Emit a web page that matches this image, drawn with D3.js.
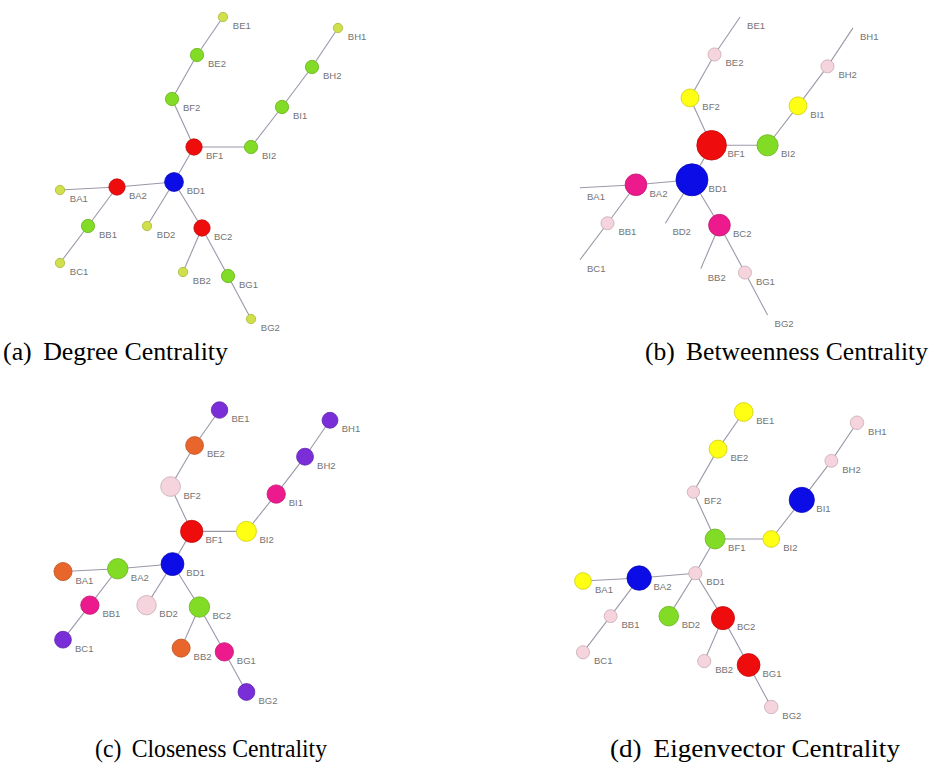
<!DOCTYPE html>
<html>
<head>
<meta charset="utf-8">
<script src="https://cdn.jsdelivr.net/npm/d3@7"></script>
<style>
  body { margin: 0; background: #fff; }
  svg { display: block; }
</style>
</head>
<body>
<svg id="chart" width="930" height="772"></svg>
<script>
// Nodes of the tree network, in a fixed drawing order
const nodeNames = ["BE1","BE2","BF2","BF1","BI2","BI1","BH2","BH1","BD1","BA2","BA1","BB1","BC1","BD2","BC2","BB2","BG1","BG2"];

// Undirected edges between nodes
const links = [
  ["BE1","BE2"],["BE2","BF2"],["BF2","BF1"],["BF1","BI2"],["BI2","BI1"],["BI1","BH2"],["BH2","BH1"],
  ["BF1","BD1"],["BD1","BA2"],["BA2","BA1"],["BA2","BB1"],["BB1","BC1"],["BD1","BD2"],
  ["BD1","BC2"],["BC2","BB2"],["BC2","BG1"],["BG1","BG2"]
];

// Graph layout coordinates (abstract layout units, shared by all four views)
const layoutX = [163,137,112,134,191,222,252,278,114,57,0,28,0,87,142,123,168,191];
const layoutY = [0,38,82,130,130,90,50,11,165,170,173,209,246,209,211,255,259,302];

// Centrality measures per node (same order as nodeNames)
const degree      = [1,2,2,3,2,2,2,1,4,3,1,2,1,1,3,1,2,1];
const betweenness = [0,16,30,82,42,30,16,0,96,44,0,16,0,0,44,0,16,0];
const closeness   = [0.200,0.246,0.309,0.395,0.321,0.262,0.215,0.179,0.415,0.333,0.254,0.262,0.210,0.298,0.333,0.254,0.262,0.210];
const eigenvector = [0.55,0.50,0.15,0.62,0.42,0.95,0.18,0.22,0.20,0.90,0.42,0.18,0.20,0.60,0.82,0.20,0.80,0.22];

// Sub-figure captions
const captionTags   = ["(a)","(b)","(c)","(d)"];
const captionTitles = ["Degree Centrality","Betweenness Centrality","Closeness Centrality","Eigenvector Centrality"];

// Palette
const C = {
  blue: "#0c0ce6", red: "#ee0c0c", green: "#82dc26", leaf: "#d0e04a",
  yellow: "#ffff14", magenta: "#ec1a8c", pink: "#f6d4de", orange: "#e8662c", purple: "#7a2ed8"
};

const panels = [
  { values: degree,
    x: [60, 338], y: [17, 319],
    color: d3.scaleThreshold().domain([1.5, 2.5, 3.5]).range([C.leaf, C.green, C.red, C.blue]),
    radius: d3.scaleSqrt().domain([0, 4]).range([0, 9.4]),
    cap: [3, 360, 225] },
  { values: betweenness,
    x: [580, 853], y: [17, 315],
    color: d3.scaleThreshold().domain([20, 36, 43, 60, 90]).range([C.pink, C.yellow, C.green, C.magenta, C.red, C.blue]),
    radius: d3.scaleSqrt().domain([0, 96]).range([0, 16]),
    cap: [645, 360, 283] },
  { values: closeness,
    x: [63, 330], y: [410, 692],
    color: d3.scaleThreshold().domain([0.23, 0.258, 0.28, 0.315, 0.33, 0.38, 0.41])
      .range([C.purple, C.orange, C.magenta, C.pink, C.yellow, C.green, C.red, C.blue]),
    radius: d3.scaleLinear().domain([0.17, 0.42]).range([7.8, 11.5]),
    cap: [95, 757, 232] },
  { values: eigenvector,
    x: [583, 857], y: [412, 707],
    color: d3.scaleThreshold().domain([0.3, 0.58, 0.7, 0.85]).range([C.pink, C.yellow, C.green, C.red, C.blue]),
    radius: d3.scaleLinear().domain([0, 1]).range([5, 13]),
    cap: [610, 757, 290] }
];

const svg = d3.select("#chart");
const index = new Map(nodeNames.map((n, i) => [n, i]));

panels.forEach((p, k) => {
  const sx = d3.scaleLinear().domain(d3.extent(layoutX)).range(p.x);
  const sy = d3.scaleLinear().domain(d3.extent(layoutY)).range(p.y);
  const g = svg.append("g");

  const nodes = nodeNames.map((name, i) => ({
    name, value: p.values[i], x: sx(layoutX[i]), y: sy(layoutY[i])
  }));

  g.append("g")
    .selectAll("line")
    .data(links)
    .join("line")
    .attr("x1", d => nodes[index.get(d[0])].x)
    .attr("y1", d => nodes[index.get(d[0])].y)
    .attr("x2", d => nodes[index.get(d[1])].x)
    .attr("y2", d => nodes[index.get(d[1])].y)
    .attr("stroke", "#9a98a8")
    .attr("stroke-width", 1.1);

  g.append("g")
    .selectAll("circle")
    .data(nodes.filter(d => p.radius(d.value) > 0.5))
    .join("circle")
    .attr("cx", d => d.x)
    .attr("cy", d => d.y)
    .attr("r", d => p.radius(d.value))
    .attr("fill", d => p.color(d.value))
    .attr("stroke", d => d3.color(p.color(d.value)).darker(0.6))
    .attr("stroke-width", 0.8);

  g.append("g")
    .selectAll("text")
    .data(nodes)
    .join("text")
    .attr("x", d => d.x + p.radius(d.value) * 0.6 + 7)
    .attr("y", d => d.y + 12)
    .attr("font-family", "Liberation Sans, Arial, sans-serif")
    .attr("font-size", 9.5)
    .attr("fill", "#747474")
    .text(d => d.name);

  const cap = svg.append("text")
    .attr("x", p.cap[0])
    .attr("y", p.cap[1])
    .attr("textLength", p.cap[2])
    .attr("lengthAdjust", "spacingAndGlyphs")
    .attr("font-family", "Liberation Serif, serif")
    .attr("font-size", 25)
    .attr("fill", "#000");
  cap.append("tspan").text(captionTags[k]);
  cap.append("tspan").attr("dx", 11).text(captionTitles[k]);
});
</script>
</body>
</html>
